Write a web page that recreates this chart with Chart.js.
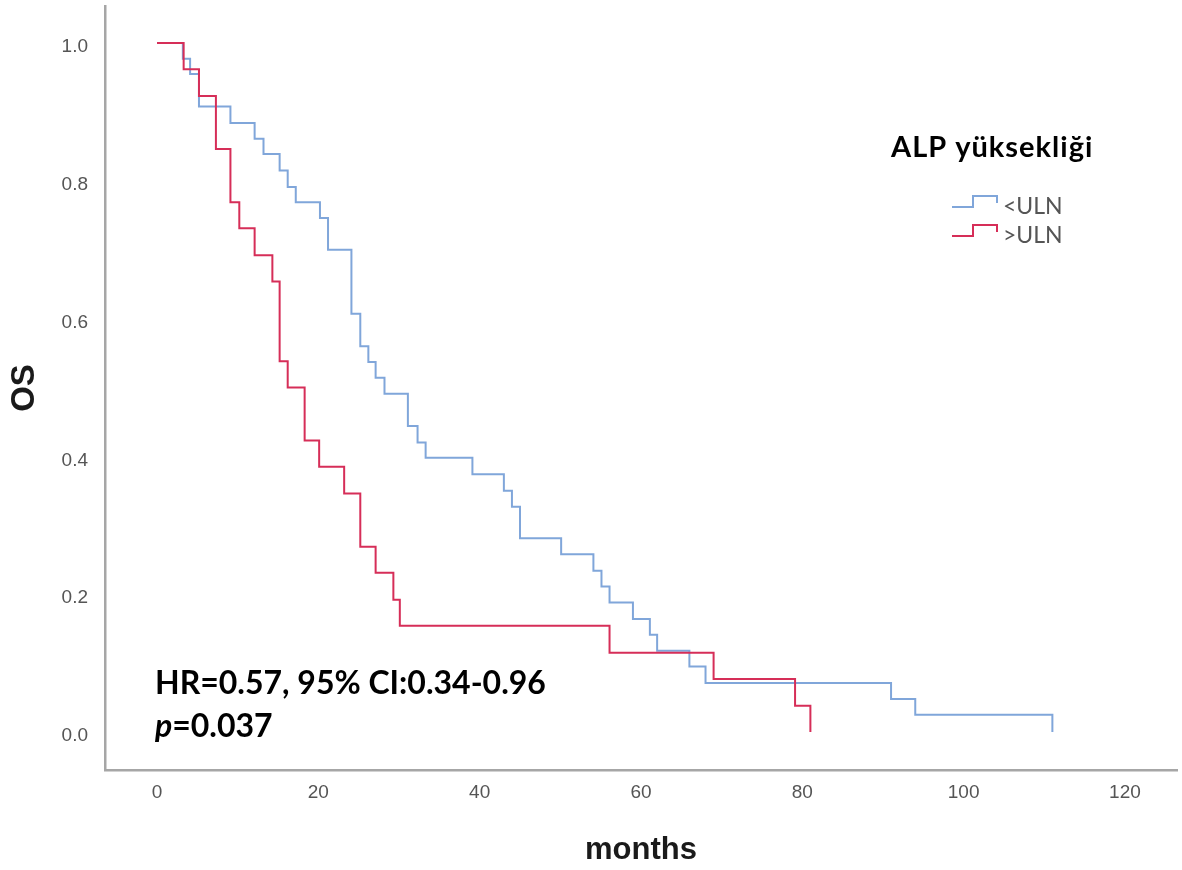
<!DOCTYPE html>
<html>
<head>
<meta charset="utf-8">
<script src="https://cdn.jsdelivr.net/npm/chart.js@4.4.1/dist/chart.umd.min.js"></script>
<style>
  html, body { margin: 0; padding: 0; background: #fff; }
  canvas { display: block; }
</style>
</head>
<body>
<canvas id="kmChart" width="1182" height="870"></canvas>
<script>
// Kaplan-Meier steps: month of each drop and the survival right after it
const lowTimes = [0, 3.2, 4.1, 5.2, 9.1, 12.1, 13.2, 15.2, 16.2, 17.2, 20.2, 21.2, 24.1, 25.2, 26.2, 27.1, 28.2,
  31.1, 32.3, 33.3, 39.1, 43.0, 44.0, 45.0, 50.1, 54.1, 55.1, 56.1, 59.0, 61.1, 62.0, 66.0, 68.0, 91.0, 94.0, 111.0];
const lowSurvival = [1.0, 0.977, 0.955, 0.908, 0.884, 0.861, 0.839, 0.815, 0.791, 0.769, 0.746, 0.700, 0.607, 0.560,
  0.537, 0.514, 0.491, 0.444, 0.420, 0.398, 0.374, 0.350, 0.327, 0.281, 0.258, 0.234, 0.211, 0.188, 0.164, 0.141,
  0.118, 0.095, 0.071, 0.048, 0.025, 0.0];
const highTimes = [0, 3.3, 5.2, 7.3, 9.1, 10.2, 12.1, 14.3, 15.2, 16.2, 18.3, 20.1, 23.2, 25.2, 27.1, 29.3, 30.1,
  56.1, 69.0, 79.1, 81.0];
const highSurvival = [1.0, 0.962, 0.923, 0.846, 0.769, 0.731, 0.692, 0.654, 0.538, 0.500, 0.423, 0.385, 0.346,
  0.269, 0.231, 0.192, 0.154, 0.115, 0.077, 0.038, 0.0];
const groupLabels = ['<ULN', '>ULN'];
const xTicks = [0, 20, 40, 60, 80, 100, 120];
const yTicks = [0, 0.2, 0.4, 0.6, 0.8, 1.0];
const statsLine = 'HR=0.57, 95% CI:0.34-0.96';
const pLabel = 'p';
const pValue = '=0.037';
const legendTitle = 'ALP yüksekliği';

const toPoints = (times, surv) => times.map((t, i) => ({ x: t, y: surv[i] }));

// legend with step symbols + the HR / p text
const overlayText = {
  id: 'overlayText',
  afterDraw(chart) {
    const ctx = chart.ctx;
    ctx.save();
    ctx.textAlign = 'left';
    ctx.textBaseline = 'alphabetic';
    ctx.fillStyle = '#000';
    ctx.font = 'bold 32px Lato';
    ctx.fillText(statsLine, 155, 694);
    ctx.font = 'italic bold 32px Lato';
    ctx.fillText(pLabel, 155, 737);
    const pw = ctx.measureText(pLabel).width;
    ctx.font = 'bold 32px Lato';
    ctx.fillText(pValue, 155 + pw, 737);

    ctx.font = 'bold 29px Lato';
    ctx.letterSpacing = '1px';
    ctx.fillText(legendTitle, 891, 157);
    ctx.letterSpacing = '0px';
    chart.data.datasets.forEach((ds, i) => {
      const y = 207 + i * 29;
      ctx.strokeStyle = ds.borderColor;
      ctx.lineWidth = 2;
      ctx.beginPath();
      ctx.moveTo(952, y);
      ctx.lineTo(973, y);
      ctx.lineTo(973, y - 11);
      ctx.lineTo(997, y - 11);
      ctx.lineTo(997, y - 4);
      ctx.stroke();
      ctx.fillStyle = '#555';
      ctx.font = '23px Lato';
      ctx.fillText(ds.label, 1003, y + 7);
    });
    ctx.restore();
  }
};

const ctx = document.getElementById('kmChart').getContext('2d');
const kmChart = new Chart(ctx, {
  type: 'scatter',
  data: {
    datasets: [{
      label: groupLabels[0],
      data: toPoints(lowTimes, lowSurvival),
      borderColor: 'rgb(128, 166, 218)',
      borderWidth: 2,
      showLine: true,
      stepped: 'before',
      pointRadius: 0,
      fill: false,
      order: 1
    }, {
      label: groupLabels[1],
      data: toPoints(highTimes, highSurvival),
      borderColor: 'rgb(214, 46, 88)',
      borderWidth: 2,
      showLine: true,
      stepped: 'before',
      pointRadius: 0,
      fill: false,
      order: 0
    }]
  },
  options: {
    responsive: false,
    animation: false,
    devicePixelRatio: 1,
    layout: { padding: { top: 6, right: 5, left: 0, bottom: 0 } },
    plugins: {
      legend: { display: false },
      tooltip: { enabled: false }
    },
    scales: {
      x: {
        type: 'linear',
        min: -6.45,
        max: 126.45,
        afterBuildTicks: s => { s.ticks = xTicks.map(v => ({ value: v })); },
        afterFit: s => { s.height = 100; s.paddingLeft = 0; s.paddingRight = 0; },
        ticks: {
          color: '#555',
          font: { family: 'Liberation Sans', size: 19 },
          padding: 11,
          maxRotation: 0,
          autoSkip: false
        },
        grid: { display: false, drawTicks: false },
        border: { display: true, color: '#a6a6a6', width: 2.5 },
        title: {
          display: true,
          text: 'months',
          color: '#1a1a1a',
          font: { family: 'Liberation Sans', size: 31, weight: 'bold' },
          padding: { top: 0, bottom: 1 }
        }
      },
      y: {
        type: 'linear',
        min: -0.0552,
        max: 1.0537,
        afterBuildTicks: s => { s.ticks = yTicks.map(v => ({ value: v })); },
        afterFit: s => { s.width = 105; s.paddingTop = 0; s.paddingBottom = 0; },
        ticks: {
          color: '#555',
          font: { family: 'Liberation Sans', size: 19 },
          padding: 17,
          labelOffset: 4,
          callback: v => v.toFixed(1)
        },
        grid: { display: false, drawTicks: false },
        border: { display: true, color: '#a6a6a6', width: 2.5 },
        title: {
          display: true,
          text: 'OS',
          color: '#1a1a1a',
          font: { family: 'Liberation Sans', size: 33, weight: 'bold' },
          padding: { top: 5, bottom: 0 }
        }
      }
    }
  },
  plugins: [overlayText]
});
</script>
</body>
</html>
